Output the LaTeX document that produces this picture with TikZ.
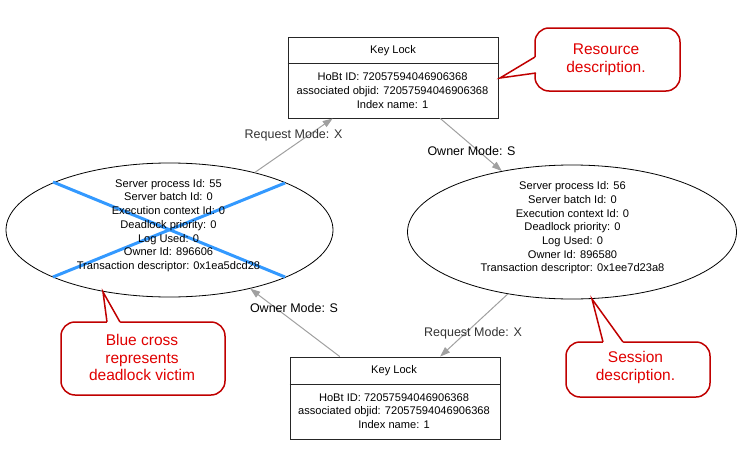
\documentclass[tikz,border=0pt]{standalone}
\usepackage{fontspec}
\setmainfont{Liberation Sans}
\usetikzlibrary{shapes.geometric,arrows.meta,calc}
\definecolor{calloutred}{HTML}{C00000}
\definecolor{callouttext}{HTML}{E00000}
\definecolor{crossblue}{HTML}{3399FF}
\definecolor{edgegray}{HTML}{A0A0A0}
\begin{document}
\begin{tikzpicture}[x=1pt,y=-1pt,
  lockbox/.style={draw=black!85, line width=0.9pt, minimum width=210pt, inner sep=0pt, fill=white},
  session/.style={draw, ellipse, line width=0.8pt, inner sep=0pt},
  infotext/.style={font=\fontsize{11.1}{13.7}\selectfont, align=center, inner sep=0pt},
  edgelabel/.style={font=\fontsize{12.5}{15}\selectfont, inner sep=0pt, anchor=base},
  link/.style={draw=edgegray, line width=1pt, -{Triangle[length=10pt,width=7pt]}},
  callout/.style={draw=calloutred, line width=1.5pt, rounded corners=14pt, fill=white, inner sep=0pt},
  calloutside/.style={draw=calloutred, line width=1.5pt, line join=miter},
  callouttxt/.style={text=callouttext, font=\fontsize{15.5}{17.7}\selectfont, align=center, inner sep=0pt}
]
\useasboundingbox (0,0) rectangle (744,463);

% ---------- lock boxes ----------
\node[lockbox, minimum height=81pt] (top) at (393,77.5) {};
\draw[black!85, line width=0.9pt] ($(top.north west)+(0,27)$) -- ($(top.north east)+(0,27)$);
\node[infotext] (toptitle) at (393,51) {Key Lock};
\node[infotext] (topbody) at (392.5,90.5) {HoBt ID: 72057594046906368\\associated objid: 72057594046906368\\Index name: 1};

\node[lockbox, minimum height=82pt] (bot) at (395,398) {};
\draw[black!85, line width=0.9pt] ($(bot.north west)+(0,28)$) -- ($(bot.north east)+(0,28)$);
\node[infotext] (bottitle) at (394,371) {Key Lock};
\node[infotext] (botbody) at (394,411) {HoBt ID: 72057594046906368\\associated objid: 72057594046906368\\Index name: 1};

% ---------- sessions ----------
\node[session, minimum width=327pt, minimum height=134pt] (victim) at (169.5,230) {};
\node[session, minimum width=329pt, minimum height=134pt] (other) at (572,232) {};

\draw[crossblue, line width=3pt] (53,182) -- (285,277);
\draw[crossblue, line width=3pt] (53,277) -- (285,183);

\node[infotext] (victimtext) at (168.5,225.5) {Server process Id: 55\\Server batch Id: 0\\Execution context Id: 0\\Deadlock priority: 0\\Log Used: 0\\Owner Id: 896606\\Transaction descriptor: 0x1ea5dcd28};
\node[infotext] (othertext) at (572.5,228) {Server process Id: 56\\Server batch Id: 0\\Execution context Id: 0\\Deadlock priority: 0\\Log Used: 0\\Owner Id: 896580\\Transaction descriptor: 0x1ee7d23a8};

% ---------- connectors ----------
\draw[link] (victim.34) -- ($(top.south west)!0.214!(top.south east)$);
\draw[link] ($(top.south west)!0.724!(top.south east)$) -- (other.139);
\draw[link] (other.224.5) -- ($(bot.north west)!0.714!(bot.north east)$);
\draw[link] ($(bot.north west)!0.238!(bot.north east)$) -- (victim.-36);

\node[edgelabel, text=black!80] (rq1) at (293.5,138) {Request Mode: X};
\node[edgelabel] (ow1) at (471.5,155.5) {Owner Mode: S};
\node[edgelabel] (ow2) at (294,312.7) {Owner Mode: S};
\node[edgelabel, text=black!80] (rq2) at (473,336.7) {Request Mode: X};

% ---------- callouts ----------
\node[callout, minimum width=145pt, minimum height=63pt] (resco) at (607.5,59.5) {};
\coordinate (restip) at (500,78);
\fill[white] (restip) -- (535,57) -- (539,57) -- (539,73) -- (536,73) -- cycle;
\draw[calloutside] (535,57) -- (restip) -- (536,73);
\node[callouttxt] (restext) at (606,59.5) {Resource\\description.};

\node[callout, minimum width=164pt, minimum height=73pt] (blueco) at (143,358.5) {};
\coordinate (bluetip) at (103,292);
\fill[white] (bluetip) -- (107,322) -- (107,326) -- (120,326) -- (120,322) -- cycle;
\draw[calloutside] (107,322) -- (bluetip) -- (120,322);
\node[callouttxt] (bluetext) at (142,357.5) {Blue cross\\represents\\deadlock victim};

\node[callout, minimum width=144pt, minimum height=55pt] (sesco) at (638,369.5) {};
\coordinate (sestip) at (592,299);
\fill[white] (sestip) -- (603,342) -- (603,346) -- (623,346) -- (623,342) -- cycle;
\draw[calloutside] (603,342) -- (sestip) -- (623,342);
\node[callouttxt] (sestext) at (635.5,367.5) {Session\\description.};
\end{tikzpicture}
\end{document}
